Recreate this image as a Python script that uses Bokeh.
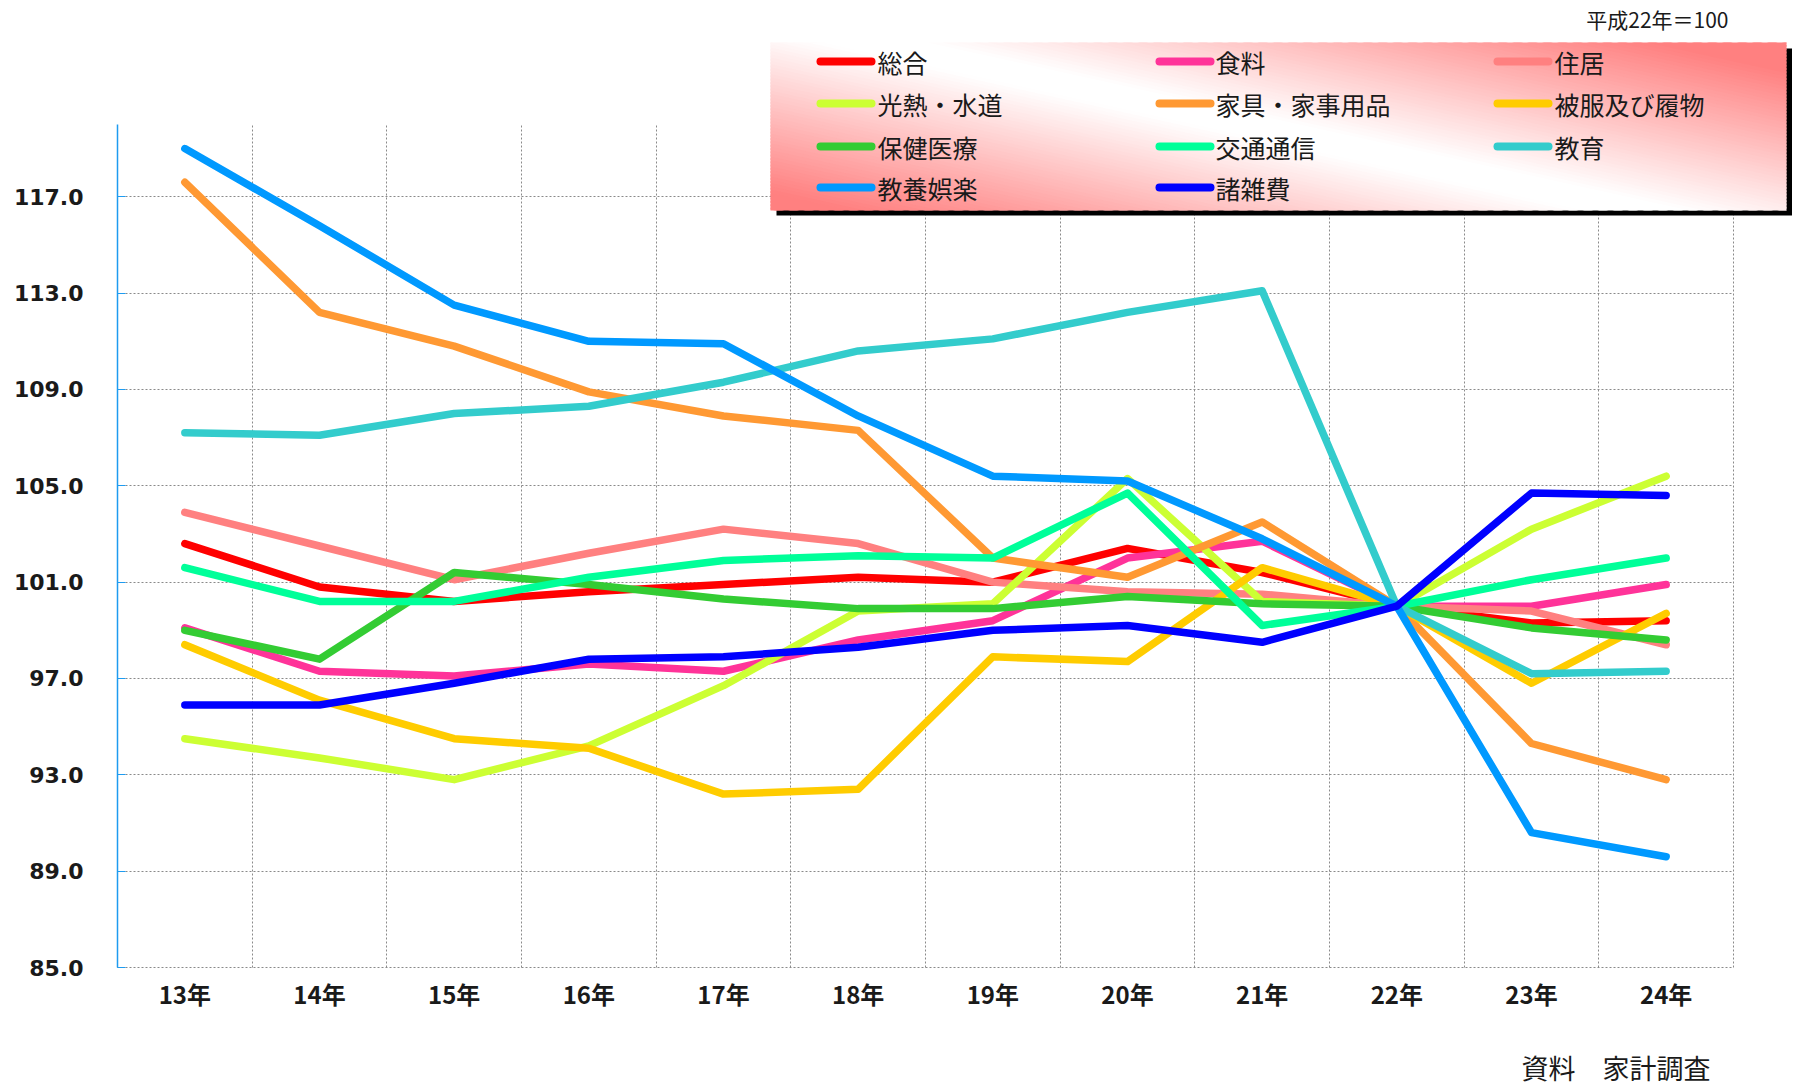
from bokeh.plotting import figure
from bokeh.models import (FixedTicker, Label, BoxAnnotation, PolyAnnotation, Grid)
from bokeh.embed import file_html
from bokeh.resources import INLINE

# ---------------- data ----------------
years = ["13年", "14年", "15年", "16年", "17年", "18年", "19年", "20年", "21年", "22年", "23年", "24年"]

series_names = ["総合", "食料", "住居", "光熱・水道", "家具・家事用品", "被服及び履物",
                "保健医療", "交通通信", "教育", "教養娯楽", "諸雑費"]
series_colors = ["#FF0000", "#FF3399", "#FF8080", "#CCFF33", "#FF9933", "#FFCC00",
                 "#33CC33", "#00FF99", "#33CCCC", "#0099FF", "#0000FF"]

sogo      = [102.6, 100.8, 100.2, 100.6, 100.9, 101.2, 101.0, 102.4, 101.4, 100.0, 99.3, 99.4]
shokuryo  = [99.1, 97.3, 97.1, 97.6, 97.3, 98.6, 99.4, 102.0, 102.7, 100.0, 100.0, 100.9]
jukyo     = [103.9, 102.5, 101.1, 102.2, 103.2, 102.6, 101.0, 100.6, 100.5, 100.0, 99.8, 98.4]
konetsu   = [94.5, 93.7, 92.8, 94.2, 96.7, 99.8, 100.1, 105.3, 100.2, 100.0, 103.2, 105.4]
kagu      = [117.6, 112.2, 110.8, 108.9, 107.9, 107.3, 102.0, 101.2, 103.5, 100.0, 94.3, 92.8]
hifuku    = [98.4, 96.1, 94.5, 94.1, 92.2, 92.4, 97.9, 97.7, 101.6, 100.0, 96.8, 99.7]
hoken     = [99.0, 97.8, 101.4, 100.9, 100.3, 99.9, 99.9, 100.4, 100.1, 100.0, 99.1, 98.6]
kotsu     = [101.6, 100.2, 100.2, 101.2, 101.9, 102.1, 102.0, 104.7, 99.2, 100.0, 101.1, 102.0]
kyoiku    = [107.2, 107.1, 108.0, 108.3, 109.3, 110.6, 111.1, 112.2, 113.1, 100.0, 97.2, 97.3]
kyoyo     = [119.0, 115.8, 112.5, 111.0, 110.9, 107.9, 105.4, 105.2, 102.8, 100.0, 90.6, 89.6]
shozappi  = [95.9, 95.9, 96.8, 97.8, 97.9, 98.3, 99.0, 99.2, 98.5, 100.0, 104.7, 104.6]

series_values = [sogo, shokuryo, jukyo, konetsu, kagu, hifuku, hoken, kotsu, kyoiku, kyoyo, shozappi]

y_ticks = [85, 89, 93, 97, 101, 105, 109, 113, 117]
y_tick_labels = ["85.0", "89.0", "93.0", "97.0", "101.0", "105.0", "109.0", "113.0", "117.0"]

note_text = "平成22年＝100"
source_text = "資料　家計調査"

# ---------------- layout ----------------
OFF = 0                                # canvas offset on the page
W, H = 1792, 1086
PL, PT, PW, PH = 117, 124, 1616, 843   # plotting area inside the canvas (px)
YMIN, YMAX = 85, 120
NX = len(years)

ux = PW / NX                 # px per x unit
uy = PH / (YMAX - YMIN)      # px per y unit
X0 = -PL / ux
X1 = NX + (W - PL - PW) / ux
Y1 = YMAX + PT / uy
Y0 = YMIN - (H - PT - PH) / uy

p = figure(width=W, height=H, x_range=(X0, X1), y_range=(Y0, Y1),
           output_backend="svg", toolbar_location=None,
           min_border_left=0, min_border_right=0, min_border_top=0, min_border_bottom=0)
p.outline_line_color = None
p.background_fill_color = "white"
p.border_fill_color = "white"

def dx(px):   # page px -> data x
    return X0 + (px - OFF) / ux

def dy(py):   # page px -> data y
    return Y1 - (py - OFF) / uy

# axes placed at fixed locations inside the canvas
xcent = [i + 0.5 for i in range(NX)]
xa = p.xaxis[0]
xa.fixed_location = YMIN
xa.bounds = (0, NX)
xa.ticker = FixedTicker(ticks=xcent)
xa.major_label_overrides = {c: lab for c, lab in zip(xcent, years)}
xa.axis_line_color = None
xa.major_tick_line_color = None
xa.minor_tick_line_color = None
xa.major_label_standoff = 2
xa.major_label_text_font = "Noto Sans CJK JP"
xa.major_label_text_font_style = "bold"
xa.major_label_text_font_size = "24px"
xa.major_label_text_color = "#1a1a1a"

ya = p.yaxis[0]
ya.fixed_location = 0
ya.bounds = (YMIN, YMAX)
ya.ticker = FixedTicker(ticks=y_ticks)
ya.major_label_overrides = {t: lab for t, lab in zip(y_ticks, y_tick_labels)}
ya.axis_line_color = "#1E9BF0"
ya.axis_line_width = 1.5
ya.major_tick_line_color = "#1E9BF0"
ya.major_tick_in = 8
ya.major_tick_out = 0
ya.minor_tick_line_color = None
ya.major_label_standoff = 34
ya.major_label_text_font = "DejaVu Sans"
ya.major_label_text_font_style = "bold"
ya.major_label_text_font_size = "22px"
ya.major_label_text_color = "#1a1a1a"

# grid limited to the plotting area
grid_x_ticks = list(range(NX + 1))
has_cross = "cross_bounds" in Grid.properties()
p.xgrid.ticker = FixedTicker(ticks=grid_x_ticks)
p.ygrid.ticker = FixedTicker(ticks=y_ticks)
if has_cross:
    p.xgrid.bounds = (0, NX)
    p.xgrid.cross_bounds = (YMIN, YMAX)
    p.ygrid.bounds = (YMIN, YMAX)
    p.ygrid.cross_bounds = (0, NX)
    for g in (p.xgrid, p.ygrid):
        g.grid_line_color = "#8a8a8a"
        g.grid_line_dash = "2 2"
        g.grid_line_width = 1
else:
    p.xgrid.visible = False
    p.ygrid.visible = False
    p.segment(x0=grid_x_ticks, x1=grid_x_ticks, y0=[YMIN] * len(grid_x_ticks), y1=[YMAX] * len(grid_x_ticks),
              line_color="#8a8a8a", line_dash="2 2", line_width=1)
    p.segment(x0=[0] * len(y_ticks), x1=[NX] * len(y_ticks), y0=y_ticks, y1=y_ticks,
              line_color="#8a8a8a", line_dash="2 2", line_width=1)

# lines
for name, col, vals in zip(series_names, series_colors, series_values):
    p.line(xcent, vals, line_color=col, line_width=7.5, line_cap="round", line_join="round")

# ---------------- legend box ----------------
LL, LT, LR, LB = 770, 42, 1786, 210   # page px
p.add_layout(BoxAnnotation(left=dx(LL + 6), right=dx(LR + 6), top=dy(LT + 6), bottom=dy(LB + 5),
                           fill_color="black", fill_alpha=1, line_color=None, level="annotation"))

def clip(poly, a, b, c):
    out = []
    n = len(poly)
    for i in range(n):
        P, Q = poly[i], poly[(i + 1) % n]
        fp = a * P[0] + b * P[1] + c
        fq = a * Q[0] + b * Q[1] + c
        if fp >= 0:
            out.append(P)
        if (fp >= 0) != (fq >= 0):
            s = fp / (fp - fq)
            out.append((P[0] + s * (Q[0] - P[0]), P[1] + s * (Q[1] - P[1])))
    return out

# diagonal gradient: white band along t = u - 0.1 - 0.75 v = 0, pink towards the corners
pink = (255, 128, 128)
SHIFT, SLOPE = 0.1, 0.75
t_lo, t_hi = -(SHIFT + SLOPE) - 0.01, 1 - SHIFT + 0.01
nstr = 120
dt = (t_hi - t_lo) / nstr
for k in range(nstr):
    t0 = t_lo + k * dt
    t1 = t0 + dt * 1.6          # slight overlap to hide seams
    sq = [(0, 0), (1, 0), (1, 1), (0, 1)]
    poly = clip(sq, 1, -SLOPE, -SHIFT - t0)
    poly = clip(poly, -1, SLOPE, SHIFT + t1)
    if len(poly) < 3:
        continue
    tm = t0 + dt / 2
    f = max(0.0, min(1.0, (abs(tm) - 0.05) / 0.72))
    r = int(round(255 * (1 - f) + pink[0] * f))
    gcol = int(round(255 * (1 - f) + pink[1] * f))
    b = int(round(255 * (1 - f) + pink[2] * f))
    colr = "#%02x%02x%02x" % (r, gcol, b)
    xs = [dx(LL + u * (LR - LL)) for u, v in poly]
    ys = [dy(LT + v * (LB - LT)) for u, v in poly]
    p.add_layout(PolyAnnotation(xs=xs, ys=ys, fill_color=colr, fill_alpha=1,
                                line_color=None, level="annotation"))

# legend entries
col_glyph_x = [816, 1155, 1493]
col_text_x = [877, 1215, 1554]
row_y = [61, 103, 146, 187]
for i, (name, col) in enumerate(zip(series_names, series_colors)):
    r_, c_ = divmod(i, 3)
    gx = col_glyph_x[c_]
    ry = row_y[r_]
    p.add_layout(BoxAnnotation(left=dx(gx), right=dx(gx + 59), top=dy(ry - 4), bottom=dy(ry + 4),
                               fill_color=col, fill_alpha=1, line_color=None,
                               border_radius=4, level="annotation"))
    p.add_layout(Label(x=dx(col_text_x[c_]), y=dy(ry), text=name,
                       text_font="Noto Sans CJK JP", text_font_size="25px",
                       text_color="#1a1a1a", text_baseline="middle", text_align="left"))

# notes
p.add_layout(Label(x=dx(1728), y=dy(18), text=note_text, text_font="Noto Sans CJK JP",
                   text_font_size="21px", text_color="#1a1a1a",
                   text_baseline="middle", text_align="right"))
p.add_layout(Label(x=dx(1521), y=dy(1067), text=source_text, text_font="Noto Sans CJK JP",
                   text_font_size="27px", text_color="#1a1a1a",
                   text_baseline="middle", text_align="left"))

open("out.html", "w").write(file_html(p, INLINE))
